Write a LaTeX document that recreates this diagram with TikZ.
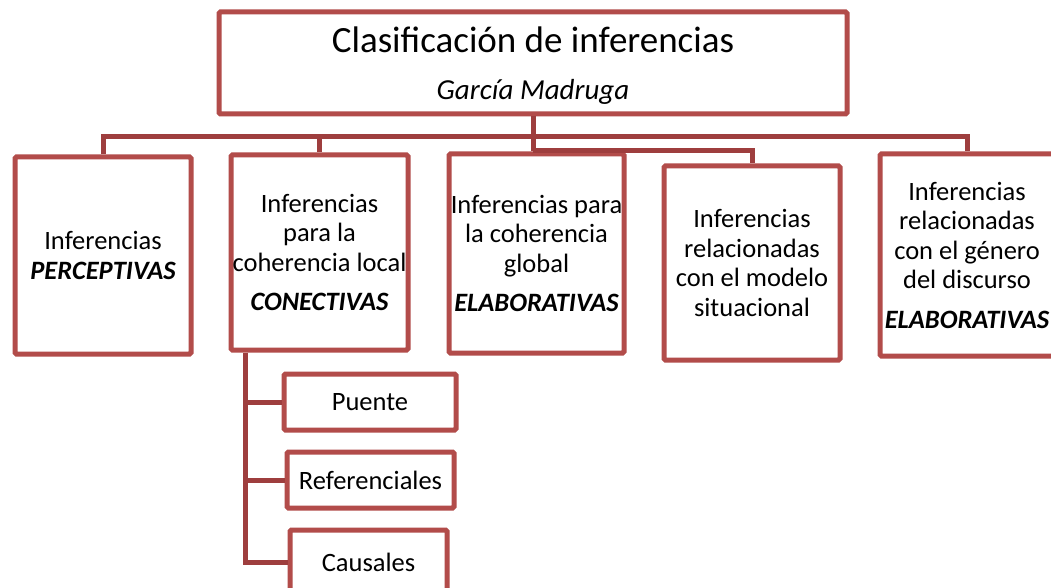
\documentclass[tikz,border=0pt]{standalone}
\usepackage{fontspec}
\setmainfont{Carlito}
\definecolor{boxred}{RGB}{178,76,74}
\definecolor{connred}{RGB}{158,62,62}
\tikzset{
  box/.style={draw=boxred, line width=5pt, rounded corners=1.5pt, fill=white, inner sep=0pt,
    align=center, font=\fontsize{26.5}{29.5}\selectfont},
  conn/.style={draw=connred, line width=5pt}
}
\begin{document}
\begin{tikzpicture}[x=1pt,y=-1pt]
\clip (0,0) rectangle (1051,588);
\fill[white] (0,0) rectangle (1051,588);
% top box
\node[box, minimum width=628, minimum height=102] (top) at (533,63) {};
\node[font=\fontsize{37}{44}\selectfont, inner sep=0pt] (title) at (533,40) {Clasificación de inferencias};
\node[font=\fontsize{29}{34}\selectfont\itshape, inner sep=0pt] (author) at (533,92) {García Madruga};
\path (top.south) ++(0,20) coordinate (bus);
\path (top.south) ++(0,34) coordinate (bus2);
% level boxes
\node[box, minimum width=176, minimum height=197] (b1) at (103,255.5)
  {Inferencias\\{\bfseries\itshape PERCEPTIVAS}};
\node[box, minimum width=177, minimum height=195] (b2) at (319.5,252.5)
  {Inferencias\\para la\\coherencia local\\[10pt]{\bfseries\itshape CONECTIVAS}};
\node[box, minimum width=175, minimum height=199] (b3) at (536.5,253.5)
  {Inferencias para\\la coherencia\\global\\[10pt]{\bfseries\itshape ELABORATIVAS}};
\node[box, minimum width=176, minimum height=194] (b4) at (752,263)
  {Inferencias\\relacionadas\\con el modelo\\situacional};
\node[box, minimum width=174, minimum height=202] (b5) at (967,255)
  {Inferencias\\relacionadas\\con el género\\del discurso\\[10pt]{\bfseries\itshape ELABORATIVAS}};
% sub boxes
\node[box, minimum width=172, minimum height=56] (c1) at (370,402) {Puente};
\node[box, minimum width=167, minimum height=56] (c2) at (370.5,480) {Referenciales};
\node[box, minimum width=157, minimum height=64] (c3) at (368.5,562) {Causales};
% connectors
\draw[conn] (b1.north) -- (b1.north |- bus) -- (b5.north |- bus) -- (b5.north);
\draw[conn] (b2.north) -- (b2.north |- bus);
\draw[conn] (top.south) -- (top.south |- b3.north);
\draw[conn] (top.south |- bus2) -- (b4.north |- bus2) -- (b4.north);
\path (b2.south west) ++(17,0) coordinate (sp);
\draw[conn] (sp) -- (sp |- c3.west) -- (c3.west);
\draw[conn] (sp |- c1.west) -- (c1.west);
\draw[conn] (sp |- c2.west) -- (c2.west);
\end{tikzpicture}
\end{document}
